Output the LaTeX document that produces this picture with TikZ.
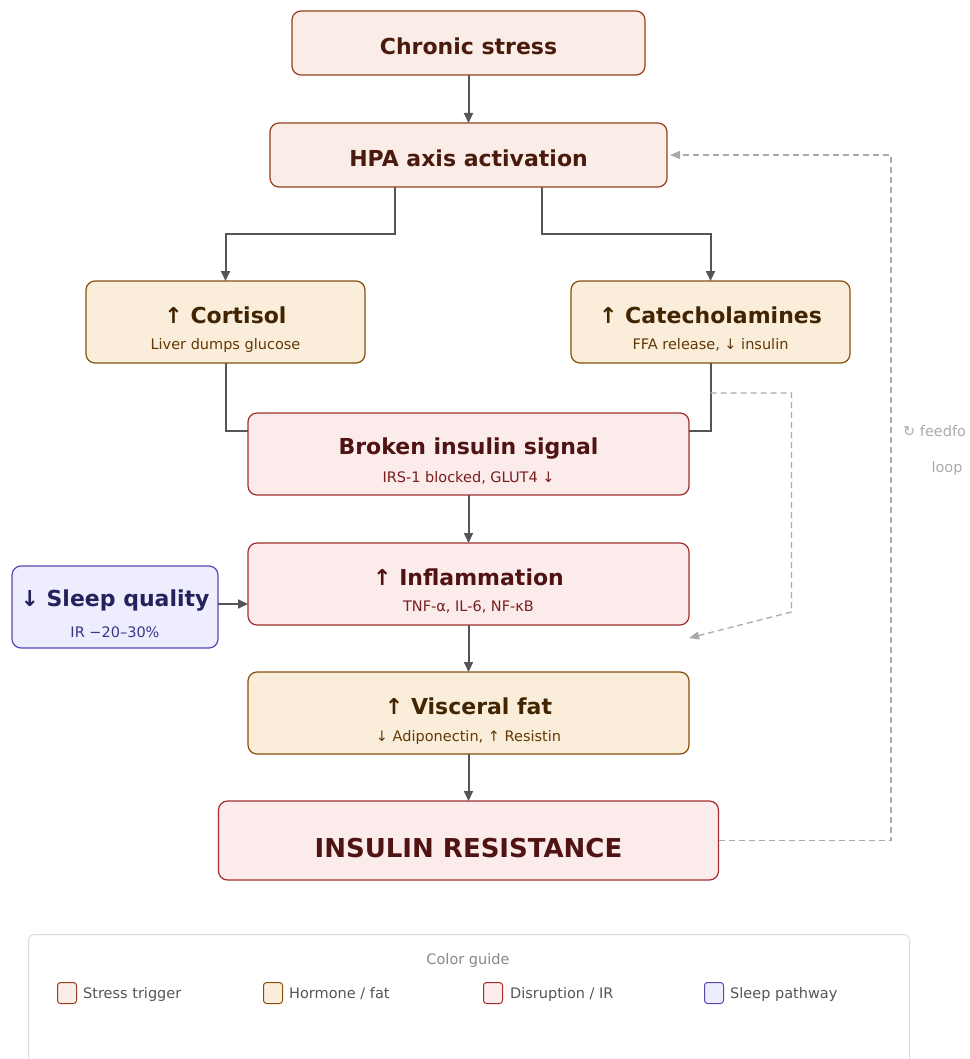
\documentclass[tikz,border=0pt]{standalone}
\usepackage{fontspec}
\setmainfont{DejaVu Sans}
\usetikzlibrary{arrows.meta,calc}
\definecolor{coralF}{HTML}{FAECE7}\definecolor{coralD}{HTML}{993C1D}\definecolor{coralT}{HTML}{4A1B0C}
\definecolor{amberF}{HTML}{FAEEDA}\definecolor{amberD}{HTML}{854F0B}\definecolor{amberT}{HTML}{412402}\definecolor{amberS}{HTML}{633806}
\definecolor{redF}{HTML}{FCEBEB}\definecolor{redD}{HTML}{A32D2D}\definecolor{redT}{HTML}{501313}\definecolor{redS}{HTML}{791F1F}
\definecolor{purF}{HTML}{EEEDFE}\definecolor{purD}{HTML}{534AB7}\definecolor{purT}{HTML}{26215C}\definecolor{purS}{HTML}{3C3489}
\definecolor{arrowgrey}{HTML}{555555}\definecolor{dashgrey}{HTML}{AAAAAA}
\definecolor{legendgrey}{HTML}{DDDDDD}\definecolor{legtext}{HTML}{555555}\definecolor{legtitle}{HTML}{888888}
\tikzset{
  box/.style={rounded corners=9pt, line width=1.2pt, inner sep=0pt, outer sep=0pt},
  coral/.style={box, fill=coralF, draw=coralD},
  amber/.style={box, fill=amberF, draw=amberD},
  redbox/.style={box, fill=redF, draw=redD},
  purple/.style={box, fill=purF, draw=purD},
  ttl/.style={font=\fontsize{22}{26}\selectfont\bfseries, anchor=base, inner sep=0pt},
  subt/.style={font=\fontsize{14.5}{18}\selectfont, anchor=base, inner sep=0pt},
  arr/.style={draw=arrowgrey, line width=2pt, -{Triangle[length=10pt,width=9pt]}},
  ln/.style={draw=arrowgrey, line width=2pt},
  dsh/.style={draw=dashgrey, line width=1.3pt, dash pattern=on 6pt off 4pt, -{Triangle[length=10pt,width=8pt]}},
  fb/.style={font=\fontsize{14.5}{18}\selectfont, text=dashgrey, inner sep=0pt},
  swatch/.style={rounded corners=3pt, line width=1pt, minimum width=19pt, minimum height=21pt, inner sep=0pt},
  legl/.style={font=\fontsize{14.5}{18}\selectfont, text=legtext, anchor=base west, inner sep=0pt}
}
\begin{document}
\begin{tikzpicture}[x=1pt,y=-1pt]
\useasboundingbox (0,0) rectangle (969,1059);
% boxes
\node[coral, minimum width=353pt, minimum height=64pt] (chronic) at (468.5,43) {};
\node[ttl, text=coralT] (chronicT) at ($(chronic.center)+(0,12)$) {Chronic stress};
\node[coral, minimum width=397pt, minimum height=64pt] (hpa) at (468.5,155) {};
\node[ttl, text=coralT] (hpaT) at ($(hpa.center)+(0,12)$) {HPA axis activation};

\node[amber, minimum width=279pt, minimum height=82pt] (cort) at (225.5,322) {};
\node[ttl, text=amberT] (cortT) at ($(cort.center)+(0,1)$) {↑ Cortisol};
\node[subt, text=amberS] (cortS) at ($(cort.center)+(0,27)$) {Liver dumps glucose};

\node[amber, minimum width=279pt, minimum height=82pt] (cat) at (710.5,322) {};
\node[ttl, text=amberT] (catT) at ($(cat.center)+(0,1)$) {↑ Catecholamines};
\node[subt, text=amberS] (catS) at ($(cat.center)+(0,27)$) {FFA release, ↓ insulin};

\node[redbox, minimum width=441pt, minimum height=82pt] (broken) at (468.5,454) {};
\node[ttl, text=redT] (brokenT) at ($(broken.center)+(0,0)$) {Broken insulin signal};
\node[subt, text=redS] (brokenS) at ($(broken.center)+(0,28)$) {IRS-1 blocked, GLUT4 ↓};

\node[redbox, minimum width=441pt, minimum height=82pt] (infl) at (468.5,584) {};
\node[ttl, text=redT] (inflT) at ($(infl.center)+(0,1)$) {↑ Inflammation};
\node[subt, text=redS] (inflS) at ($(infl.center)+(0,27)$) {TNF-α, IL-6, NF-κB};

\node[purple, minimum width=206pt, minimum height=82pt] (sleep) at (115,607) {};
\node[ttl, text=purT] (sleepT) at ($(sleep.center)+(0,-1)$) {↓ Sleep quality};
\node[subt, text=purS] (sleepS) at ($(sleep.center)+(0,30)$) {IR −20–30\%};

\node[amber, minimum width=441pt, minimum height=82pt] (visc) at (468.5,713) {};
\node[ttl, text=amberT] (viscT) at ($(visc.center)+(0,1)$) {↑ Visceral fat};
\node[subt, text=amberS] (viscS) at ($(visc.center)+(0,28)$) {↓ Adiponectin, ↑ Resistin};

\node[redbox, minimum width=500pt, minimum height=79pt] (ir) at (468.5,840.5) {};
\node[ttl, text=redT, font=\fontsize{26}{30}\selectfont\bfseries] (irT) at ($(ir.center)+(0,16.5)$) {INSULIN RESISTANCE};

% connectors
\draw[arr] (chronic) -- (hpa);
\draw[arr] ([xshift=-73.5pt]hpa.south) -- ++(0,47) -| (cort.north);
\draw[arr] ([xshift=73.5pt]hpa.south) -- ++(0,47) -| (cat.north);
\draw[ln] (cort.south) |- ([yshift=23pt]broken.west);
\draw[ln] (cat.south) |- ([yshift=23pt]broken.east);
\draw[arr] (broken) -- (infl);
\draw[arr] (infl) -- (visc);
\draw[arr] (visc) -- (ir);
\draw[arr] ([yshift=3pt]sleep.east) -- ([yshift=3pt]sleep.east -| infl.west);
\coordinate (ffend) at (689,638);
\draw[dsh] ([yshift=-30pt]cat.south) -- ++(81,0) -- ++(0,219) -- (ffend);
\draw[dsh] (ir.east) -- ++(172.5,0) |- ([xshift=3pt]hpa.east);
\node[fb, anchor=base west] (fb1) at (903,436) {↻ feedfo};
\node[fb, anchor=base] (fb2) at (947,472) {loop};

% legend
\node[draw=legendgrey, fill=white, line width=1pt, rounded corners=6pt, minimum width=881pt, minimum height=160pt, anchor=north west, inner sep=0pt] (legend) at (28,934) {};
\node[font=\fontsize{14.5}{18}\selectfont, text=legtitle, anchor=base, inner sep=0pt] (legT) at (468,964) {Color guide};
\node[swatch, fill=coralF, draw=coralD] (sw1) at (67,993) {};
\node[legl] (l1) at (83,998) {Stress trigger};
\node[swatch, fill=amberF, draw=amberD] (sw2) at (273,993) {};
\node[legl] (l2) at (289,998) {Hormone / fat};
\node[swatch, fill=redF, draw=redD] (sw3) at (493,993) {};
\node[legl] (l3) at (510,998) {Disruption / IR};
\node[swatch, fill=purF, draw=purD] (sw4) at (714,993) {};
\node[legl] (l4) at (730,998) {Sleep pathway};
\end{tikzpicture}
\end{document}
